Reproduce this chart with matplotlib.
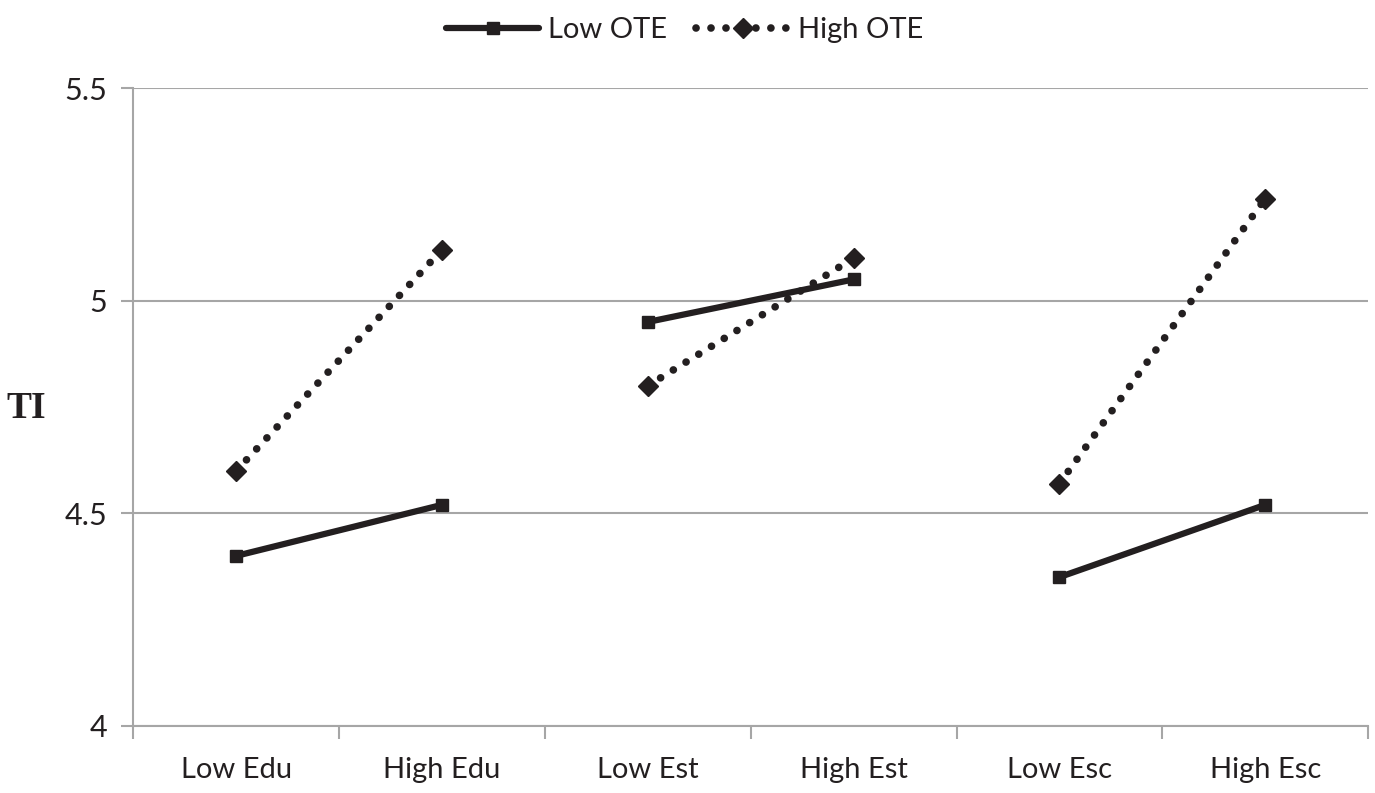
import matplotlib
matplotlib.use("Agg")
import matplotlib.pyplot as plt
import numpy as np

plt.rcParams['font.family'] = ['Lato', 'DejaVu Sans']

categories = ["Low Edu", "High Edu", "Low Est", "High Est", "Low Esc", "High Esc"]
low_ote = [4.40, 4.52, 4.95, 5.05, 4.35, 4.52]
high_ote = [4.60, 5.12, 4.80, 5.10, 4.57, 5.24]
y_ticks = [4, 4.5, 5, 5.5]
y_tick_labels = ["4", "4.5", "5", "5.5"]

ink = '#231f20'
grid_col = '#a6a6a6'

fig = plt.figure(figsize=(13.75, 7.93), dpi=100)
ax = fig.add_axes([0.097, 0.0845, 0.898, 0.8045])

x = np.arange(len(categories))
# lines only join the low/high pair inside each group
for i in range(0, len(categories), 2):
    seg = slice(i, i + 2)
    ax.plot(x[seg], low_ote[seg], color=ink, lw=4.5, solid_capstyle='round',
            marker='s', ms=9, mfc=ink, mec=ink,
            label='Low OTE' if i == 0 else None, zorder=3)
    ax.plot(x[seg], high_ote[seg], color=ink, lw=5.5, linestyle=(0, (0.01, 1.95)),
            dash_capstyle='round', marker='D', ms=10, mfc=ink, mec=ink,
            label='High OTE' if i == 0 else None, zorder=3)

ax.set_xlim(-0.5, len(categories) - 0.5)
ax.set_ylim(4, 5.5)
ax.set_yticks(y_ticks)
ax.set_yticklabels(y_tick_labels)
ax.set_xticks(x)
ax.set_xticklabels(categories)
ax.set_xticks(np.arange(-0.5, len(categories), 1.0), minor=True)

ax.tick_params(axis='x', which='major', length=0, pad=22, labelsize=21, colors=ink)
ax.tick_params(axis='x', which='minor', length=9, width=1.5, color=grid_col, direction='out')
ax.tick_params(axis='y', length=9, width=1.5, color=grid_col, pad=10, labelsize=22,
               labelcolor=ink)

ax.grid(axis='y', color=grid_col, lw=1.5)
ax.set_axisbelow(True)
for s in ['top', 'right']:
    ax.spines[s].set_visible(False)
for s in ['left', 'bottom']:
    ax.spines[s].set_color(grid_col)
    ax.spines[s].set_linewidth(1.5)

fig.text(0.005, 0.485, 'TI', family='Liberation Serif', fontweight='bold',
         fontsize=27, color=ink, va='center')

fig.legend(loc='upper center', bbox_to_anchor=(0.498, 1.012), ncol=2, frameon=False,
           fontsize=21, handlelength=3.2, columnspacing=1.0, handletextpad=0.3,
           labelcolor=ink)

fig.savefig('out.png', dpi=100)
